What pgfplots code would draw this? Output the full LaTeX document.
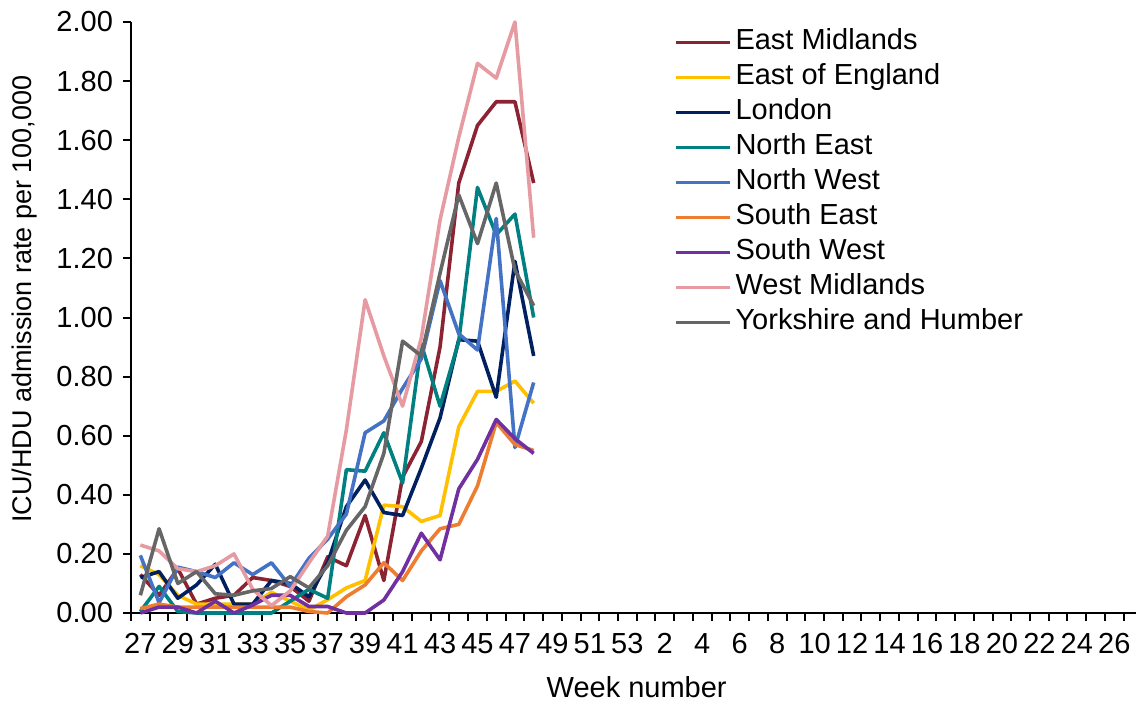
\documentclass[border=0pt]{standalone}
\usepackage{fontspec}
\setmainfont{Liberation Sans}
\usepackage{pgfplots}
\pgfplotsset{compat=1.18}
\definecolor{cEM}{RGB}{139,35,50}
\definecolor{cEE}{RGB}{255,192,0}
\definecolor{cLO}{RGB}{0,32,96}
\definecolor{cNE}{RGB}{0,128,128}
\definecolor{cNW}{RGB}{68,114,196}
\definecolor{cSE}{RGB}{237,125,49}
\definecolor{cSW}{RGB}{112,48,160}
\definecolor{cWM}{RGB}{230,155,162}
\definecolor{cYH}{RGB}{102,102,102}
\begin{document}
\fontsize{14.5pt}{17pt}\selectfont
\begin{tikzpicture}
\useasboundingbox (-65.5pt,-45pt) rectangle (502.5pt,306.5pt);
\begin{axis}[
  at={(0,0)}, anchor=south west,
  scale only axis, width=505.7pt, height=295.5pt,
  xmin=-0.5, xmax=53.5, ymin=0, ymax=2,
  axis x line*=bottom, axis y line*=left,
  axis line style={line width=1pt,-},
  tick align=outside,
  xtick={0,2,...,52},
  xticklabels={27,29,31,33,35,37,39,41,43,45,47,49,51,53,2,4,6,8,10,12,14,16,18,20,22,24,26},
  major x tick style={draw=none},
  minor xtick={-0.5,0.5,...,53.5},
  minor x tick style={black,line width=1pt},
  minor tick length=4pt,
  ytick={0,0.2,0.4,0.6,0.8,1.0,1.2,1.4,1.6,1.8,2.0},
  major y tick style={black,line width=1pt},
  major tick length=4pt,
  yticklabel style={/pgf/number format/.cd, fixed, fixed zerofill, precision=2, assume math mode=true},
  xticklabel style={/pgf/number format/assume math mode=true, yshift=-1pt},
  tick label style={font=\fontsize{14.5pt}{17pt}\selectfont},
  xlabel style={font=\fontsize{14.5pt}{17pt}\selectfont, yshift=-5.5pt, inner sep=1pt},
  ylabel style={font=\fontsize{13.5pt}{16pt}\selectfont, at={(ticklabel cs:0.531)}},
  xlabel={Week number},
  ylabel={ICU/HDU admission rate per 100,000},
  legend style={at={(0.537,0.994)}, anchor=north west, draw=none, fill=none,
    font=\fontsize{14.5pt}{17pt}\selectfont, inner sep=0pt, row sep=0.45pt,
    nodes={text height=10pt, text depth=3pt, inner sep=2pt}},
  legend cell align=left,
  legend image code/.code={\draw[#1, line width=1.5pt] (0pt,0pt) -- (27pt,0pt);},
  every axis plot/.append style={line width=1.8pt, line join=round, mark=none},
  clip=false,
]
\addplot[cEM] coordinates {(0,0.13)(1,0.06)(2,0.15)(3,0.03)(4,0.05)(5,0.06)(6,0.12)(7,0.11)(8,0.09)(9,0.04)(10,0.19)(11,0.16)(12,0.33)(13,0.11)(14,0.46)(15,0.58)(16,0.90)(17,1.455)(18,1.65)(19,1.73)(20,1.73)(21,1.455)};
\addlegendentry{East Midlands}
\addplot[cEE] coordinates {(0,0.16)(1,0.13)(2,0.06)(3,0.03)(4,0.03)(5,0.03)(6,0.03)(7,0.07)(8,0.04)(9,0.01)(10,0.045)(11,0.085)(12,0.11)(13,0.365)(14,0.36)(15,0.31)(16,0.33)(17,0.63)(18,0.75)(19,0.75)(20,0.785)(21,0.71)};
\addlegendentry{East of England}
\addplot[cLO] coordinates {(0,0.12)(1,0.14)(2,0.05)(3,0.095)(4,0.165)(5,0.03)(6,0.03)(7,0.11)(8,0.10)(9,0.055)(10,0.17)(11,0.36)(12,0.45)(13,0.34)(14,0.33)(15,0.49)(16,0.66)(17,0.925)(18,0.92)(19,0.73)(20,1.19)(21,0.87)};
\addlegendentry{London}
\addplot[cNE] coordinates {(0,0.005)(1,0.09)(2,0.005)(3,0)(4,0)(5,0)(6,0)(7,0)(8,0.04)(9,0.08)(10,0.05)(11,0.485)(12,0.48)(13,0.61)(14,0.44)(15,0.91)(16,0.70)(17,0.92)(18,1.44)(19,1.28)(20,1.35)(21,1.00)};
\addlegendentry{North East}
\addplot[cNW] coordinates {(0,0.195)(1,0.035)(2,0.155)(3,0.14)(4,0.12)(5,0.17)(6,0.13)(7,0.17)(8,0.09)(9,0.185)(10,0.25)(11,0.335)(12,0.61)(13,0.65)(14,0.76)(15,0.86)(16,1.125)(17,0.945)(18,0.89)(19,1.335)(20,0.56)(21,0.78)};
\addlegendentry{North West}
\addplot[cSE] coordinates {(0,0.015)(1,0.03)(2,0.02)(3,0.02)(4,0.02)(5,0.02)(6,0.02)(7,0.02)(8,0.02)(9,0.005)(10,0)(11,0.055)(12,0.095)(13,0.17)(14,0.11)(15,0.21)(16,0.285)(17,0.30)(18,0.43)(19,0.645)(20,0.57)(21,0.55)};
\addlegendentry{South East}
\addplot[cSW] coordinates {(0,0)(1,0.02)(2,0.02)(3,0)(4,0.04)(5,0)(6,0.027)(7,0.06)(8,0.06)(9,0.022)(10,0.022)(11,0)(12,0)(13,0.044)(14,0.14)(15,0.27)(16,0.18)(17,0.42)(18,0.52)(19,0.655)(20,0.59)(21,0.54)};
\addlegendentry{South West}
\addplot[cWM] coordinates {(0,0.23)(1,0.21)(2,0.15)(3,0.14)(4,0.16)(5,0.20)(6,0.08)(7,0.025)(8,0.075)(9,0.17)(10,0.26)(11,0.62)(12,1.06)(13,0.87)(14,0.70)(15,0.93)(16,1.33)(17,1.61)(18,1.86)(19,1.81)(20,2.00)(21,1.27)};
\addlegendentry{West Midlands}
\addplot[cYH] coordinates {(0,0.06)(1,0.285)(2,0.10)(3,0.14)(4,0.065)(5,0.06)(6,0.075)(7,0.083)(8,0.123)(9,0.085)(10,0.16)(11,0.28)(12,0.36)(13,0.54)(14,0.92)(15,0.87)(16,1.15)(17,1.415)(18,1.25)(19,1.455)(20,1.16)(21,1.04)};
\addlegendentry{Yorkshire and Humber}
\end{axis}
\end{tikzpicture}
\end{document}
